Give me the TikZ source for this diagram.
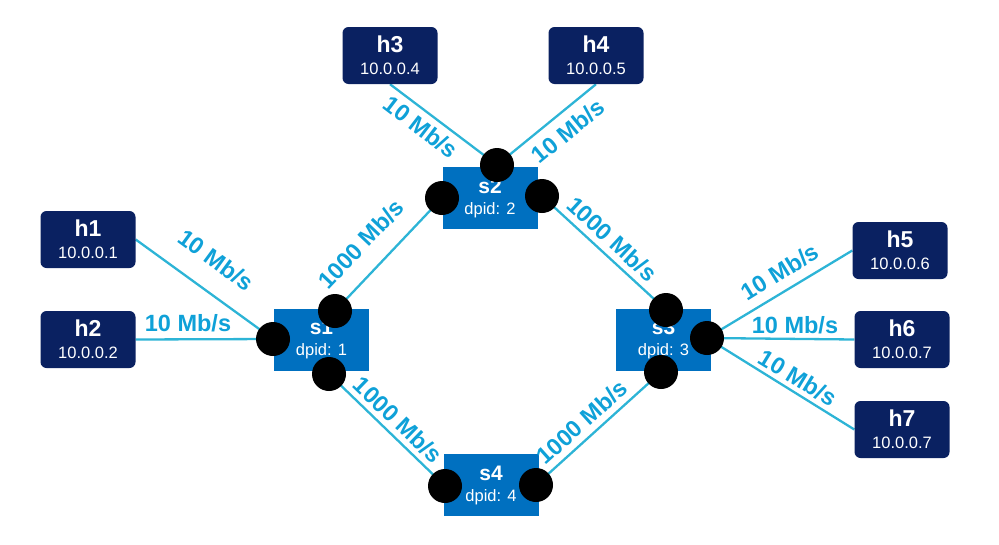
\documentclass[tikz,border=0pt]{standalone}
\usepackage{fontspec}
\setmainfont{Liberation Sans}
\pgfdeclarelayer{bg}
\pgfsetlayers{bg,main}
\definecolor{hostblue}{HTML}{0A2161}
\definecolor{swblue}{HTML}{0070C0}
\definecolor{linkcol}{HTML}{2DB4D6}
\definecolor{lblcol}{HTML}{0FA1D8}
\tikzset{
  host/.style={fill=hostblue, rounded corners=6pt, minimum width=95pt, minimum height=57pt, inner sep=0pt, text=white, align=center, font=\fontsize{16.5}{22}\selectfont},
  switchbox/.style={fill=swblue, minimum width=95pt, minimum height=62pt, inner sep=0pt, text=white, align=center, font=\fontsize{16.5}{21}\selectfont},
  port/.style={circle, fill=black, minimum size=34pt, inner sep=0pt},
  link/.style={draw=linkcol, line width=2.3pt},
  lbl/.style={text=lblcol, font=\fontsize{23.5}{24}\selectfont\bfseries, inner sep=0pt}
}
\newcommand{\hostlabel}[2]{{\fontsize{23}{22}\selectfont\bfseries #1}\\#2}
\newcommand{\swlabel}[2]{{\fontsize{21}{21}\selectfont\bfseries #1}\\#2}
\begin{document}
\begin{tikzpicture}[x=1pt,y=-1pt]
\useasboundingbox (0,0) rectangle (999,544);
% hosts
\begin{scope}[every node/.append style={yshift=-1.5pt}]
\node[host] (h1) at (88,238) {\hostlabel{h1}{10.0.0.1}};
\node[host] (h2) at (88,338) {\hostlabel{h2}{10.0.0.2}};
\node[host] (h3) at (390,54) {\hostlabel{h3}{10.0.0.4}};
\node[host] (h4) at (596,54) {\hostlabel{h4}{10.0.0.5}};
\node[host] (h5) at (900,249) {\hostlabel{h5}{10.0.0.6}};
\node[host] (h6) at (902,338) {\hostlabel{h6}{10.0.0.7}};
\node[host] (h7) at (902,428) {\hostlabel{h7}{10.0.0.7}};
\end{scope}
% switches
\node[switchbox] (s1) at (321.5,339.5) {\swlabel{s1}{dpid: 1}};
\node[switchbox] (s2) at (490,198) {\swlabel{s2}{dpid: 2}};
\node[switchbox] (s3) at (663.5,339.5) {\swlabel{s3}{dpid: 3}};
\node[switchbox] (s4) at (491,485) {\swlabel{s4}{dpid: 4}};
% ports
\node[port] (p1l) at (273,339) {};
\node[port] (p1t) at (335,311) {};
\node[port] (p1b) at (329,374) {};
\node[port] (p2l) at (442,198) {};
\node[port] (p2t) at (497,165) {};
\node[port] (p2r) at (542,196) {};
\node[port] (p3t) at (666,310) {};
\node[port] (p3r) at (707,338) {};
\node[port] (p3b) at (661,372) {};
\node[port] (p4l) at (445,486) {};
\node[port] (p4r) at (536,485) {};
% links
\begin{pgfonlayer}{bg}
\draw[link] (h1.east) -- (p1l.center);
\draw[link] (h2.east) -- (p1l.center);
\draw[link] (h3.south) -- (p2t.center);
\draw[link] (h4.south) -- (p2t.center);
\draw[link] (p1t.center) -- (p2l.center);
\draw[link] (p2r.center) -- (p3t.center);
\draw[link] (p1b.center) -- (p4l.center);
\draw[link] (p4r.center) -- (p3b.center);
\draw[link] (p3r.center) -- (h5.west);
\draw[link] (p3r.center) -- (h6.west);
\draw[link] (p3r.center) -- (h7.west);
\end{pgfonlayer}
% labels
\node[lbl, rotate=-36.2] (l1) at (216,260) {10 Mb/s};
\node[lbl] (l2) at (188,323) {10 Mb/s};
\node[lbl, rotate=-37.5] (l3) at (421,127) {10 Mb/s};
\node[lbl, rotate=39.4] (l4) at (568,131) {10 Mb/s};
\node[lbl, rotate=46.6] (l12) at (361,244) {1000 Mb/s};
\node[lbl, rotate=-42.6] (l23) at (612,239) {1000 Mb/s};
\node[lbl, rotate=-44] (l14) at (398,420) {1000 Mb/s};
\node[lbl, rotate=42] (l43) at (582,422) {1000 Mb/s};
\node[lbl, rotate=31.8] (l5) at (780,272) {10 Mb/s};
\node[lbl] (l6) at (795,325) {10 Mb/s};
\node[lbl, rotate=-31.3] (l7) at (798,378) {10 Mb/s};
\end{tikzpicture}
\end{document}
